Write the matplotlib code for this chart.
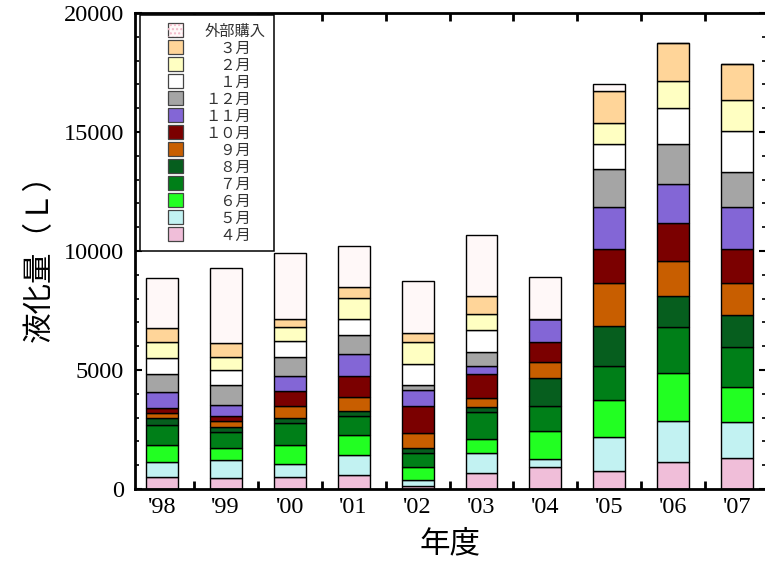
import numpy as np
import matplotlib
matplotlib.use('Agg')
import matplotlib.pyplot as plt
import matplotlib.patches as mpatches
from matplotlib.legend_handler import HandlerPatch
from matplotlib.ticker import MultipleLocator, FixedLocator

plt.rcParams['font.family'] = ['Liberation Serif', 'Noto Sans CJK JP']

#Data (L per month, stacked from April upward)
years = ["'98", "'99", "'00", "'01", "'02", "'03", "'04", "'05", "'06", "'07"]
apr = [490, 480, 490, 590, 140, 660, 910, 770, 1150, 1320]
may = [645, 730, 575, 825, 240, 870, 350, 1400, 1690, 1485]
jun = [715, 505, 785, 870, 530, 590, 1190, 1570, 2030, 1500]
jul = [855, 660, 925, 800, 590, 1105, 1050, 1415, 1945, 1650]
aug = [280, 250, 210, 210, 210, 240, 1175, 1695, 1315, 1370]
sep = [210, 225, 490, 575, 660, 350, 645, 1790, 1455, 1345]
oct_ = [210, 225, 630, 895, 1120, 1020, 840, 1440, 1610, 1415]
nov = [685, 435, 645, 910, 685, 320, 965, 1780, 1625, 1765]
dec = [745, 840, 785, 810, 210, 600, 0, 1580, 1695, 1485]
jan = [685, 670, 685, 670, 880, 910, 0, 1050, 1500, 1695]
feb = [675, 520, 575, 880, 925, 700, 0, 870, 1135, 1330]
mar = [590, 575, 335, 435, 365, 755, 0, 1360, 1580, 1485]
outside = [2075, 3190, 2770, 1720, 2185, 2550, 1765, 280, 0, 0]

series = [apr, may, jun, jul, aug, sep, oct_, nov, dec, jan, feb, mar, outside]
labels = ['　４月', '　５月', '　６月', '　７月', '　８月', '　９月', '１０月',
          '１１月', '１２月', '　１月', '　２月', '　３月', '外部購入']
colors = ['#f0bed9', '#c2f2f2', '#22ff22', '#007f18', '#065e1e', '#c85e00',
          '#7b0000', '#8366d6', '#a5a5a5', '#ffffff', '#ffffc2', '#ffd599',
          '#fff8f8']

fig = plt.figure(figsize=(7.65, 5.62), dpi=100)
ax = fig.add_axes([135/765, 1-489/562, 631/765, 476/562])

x = np.arange(len(years))
bottom = np.zeros(len(years))
for vals, col in zip(series, colors):
    ax.bar(x, vals, 0.5, bottom=bottom, color=col, edgecolor='black',
           linewidth=1.0, zorder=2)
    bottom += np.array(vals)

ax.set_xlim(-0.42, 9.45)
ax.set_ylim(0, 20000)

#y ticks, both sides, pointing in
ax.yaxis.set_major_locator(MultipleLocator(5000))
ax.yaxis.set_minor_locator(MultipleLocator(1000))
ax.tick_params(axis='y', which='both', direction='in', left=True, right=True,
               labelsize=17.5, pad=8)
ax.tick_params(axis='y', which='major', length=5, width=1.5)
ax.tick_params(axis='y', which='minor', length=3, width=1.2)

#x ticks: labels at bar centres, marks between bars
ax.set_xticks(x)
ax.set_xticklabels(years)
ax.xaxis.set_minor_locator(FixedLocator(x[:-1] + 0.5))
ax.tick_params(axis='x', which='major', length=0, labelsize=17.5, pad=6)
ax.tick_params(axis='x', which='minor', direction='in', top=True, bottom=True,
               length=6, width=2)

for side in ['left', 'bottom', 'top', 'right']:
    ax.spines[side].set_linewidth(2)

ax.set_xlabel('年度', fontsize=22, family='Noto Sans CJK JP', labelpad=7)
ax.set_ylabel('液化量（Ｌ）', fontsize=22, family='Noto Sans CJK JP', labelpad=6)


#Legend with small squares
def small_square(legend, orig_handle, xdescent, ydescent, width, height, fontsize):
    w, h = 11, 10
    return mpatches.Rectangle((-xdescent + (width - w)/2, -ydescent + (height - h)/2), w, h)


handles = []
for col in colors:
    handles.append(mpatches.Patch(facecolor=col, edgecolor='#444444', linewidth=0.9))
#dotted pattern for outside purchase
handles[-1] = (mpatches.Patch(facecolor='#fff8f8', edgecolor='#444444', linewidth=0.9),
               mpatches.Patch(facecolor='none', edgecolor='#f2b8c8', hatch='....', linewidth=0))

leg = ax.legend(handles[::-1], labels[::-1], loc='upper left',
                bbox_to_anchor=(0.008, 0.996), borderaxespad=0,
                handler_map={mpatches.Patch: HandlerPatch(patch_func=small_square)},
                prop={'family': 'Noto Sans CJK JP', 'size': 11},
                handlelength=3.65, handleheight=0.7, handletextpad=0.1,
                labelspacing=0.0, borderpad=0.5, fancybox=False,
                framealpha=1, edgecolor='black')
leg.get_frame().set_linewidth(1.1)
for t in leg.get_texts():
    t.set_color('#333333')

fig.savefig('out.png', dpi=100)
